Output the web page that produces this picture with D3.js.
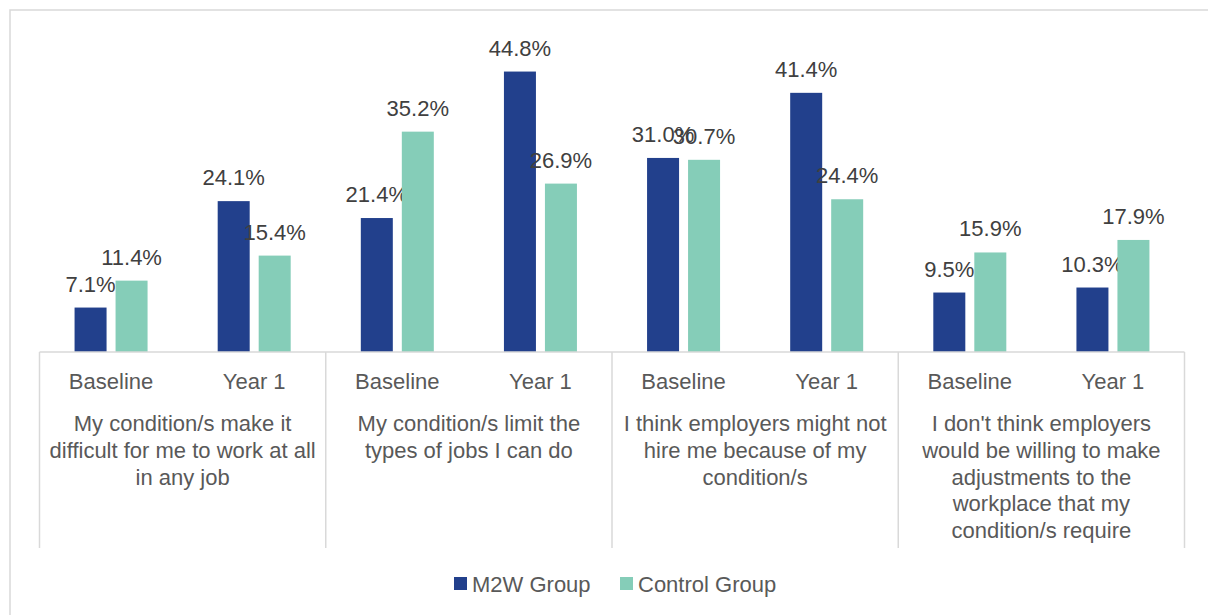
<!DOCTYPE html>
<html>
<head>
<meta charset="utf-8">
<script src="https://cdn.jsdelivr.net/npm/d3@7"></script>
<style>
  html, body { margin: 0; padding: 0; background: #fff; }
  svg { display: block; font-family: "Liberation Sans", Arial, sans-serif; }
</style>
</head>
<body>
<svg id="chart" width="1208" height="615"></svg>
<script>
// Statement groups (pre-wrapped lines) and the two time points within each
const statements = [
  ["My condition/s make it", "difficult for me to work at all", "in any job"],
  ["My condition/s limit the", "types of jobs I can do"],
  ["I think employers might not", "hire me because of my", "condition/s"],
  ["I don't think employers", "would be willing to make", "adjustments to the", "workplace that my", "condition/s require"]
];
const timepoints = ["Baseline", "Year 1"];
const seriesNames = ["M2W Group", "Control Group"];
const seriesColors = ["#22408c", "#85cdb8"];

// Percent agreeing, per statement then per time point
const m2wValues = [7.1, 24.1, 21.4, 44.8, 31.0, 41.4, 9.5, 10.3];
const controlValues = [11.4, 15.4, 35.2, 26.9, 30.7, 24.4, 15.9, 17.9];
const yDomain = [0, 50];

const svg = d3.select("#chart");

// Outer chart frame
svg.append("rect")
  .attr("x", 10).attr("y", 10)
  .attr("width", 1230).attr("height", 640)
  .attr("fill", "none").attr("stroke", "#d9d9d9").attr("stroke-width", 1.5);

const plotLeft = 39.5, plotRight = 1184.5, plotTop = 39, axisY = 352;

// Flattened category keys: statement index + time point
const keys = [];
statements.forEach((s, i) => timepoints.forEach(t => keys.push(i + "|" + t)));

const x = d3.scaleBand().domain(keys).range([plotLeft, plotRight]);
// Series offset within each time point: two 32px bars with a 9px gap
const xSeries = d3.scaleBand().domain(seriesNames).range([-36.5, 36.5]).paddingInner(9 / 41);
const y = d3.scaleLinear().domain(yDomain).range([axisY, plotTop]);

const rows = keys.map((k, i) => ({ key: k, values: [m2wValues[i], controlValues[i]] }));

const g = svg.append("g");
rows.forEach(r => {
  const cx = x(r.key) + x.bandwidth() / 2;
  r.values.forEach((v, si) => {
    const bx = cx + xSeries(seriesNames[si]);
    g.append("rect")
      .attr("x", bx).attr("y", y(v))
      .attr("width", xSeries.bandwidth()).attr("height", y(0) - y(v))
      .attr("fill", seriesColors[si]);
    g.append("text")
      .attr("x", bx + xSeries.bandwidth() / 2).attr("y", y(v) - 16)
      .attr("text-anchor", "middle")
      .attr("font-size", 22).attr("fill", "#404040")
      .text(v.toFixed(1) + "%");
  });
});

// Category axis: baseline, group separators, time-point and statement labels
const axis = svg.append("g").attr("stroke", "#d9d9d9").attr("stroke-width", 1.5);
axis.append("line").attr("x1", plotLeft).attr("x2", plotRight).attr("y1", axisY).attr("y2", axisY);
d3.range(statements.length + 1).forEach(i => {
  const sx = i < statements.length ? x(i + "|" + timepoints[0]) : plotRight;
  axis.append("line").attr("x1", sx).attr("x2", sx).attr("y1", axisY).attr("y2", 548);
});

keys.forEach((k, i) => {
  svg.append("text")
    .attr("x", x(k) + x.bandwidth() / 2).attr("y", 389)
    .attr("text-anchor", "middle").attr("font-size", 22).attr("fill", "#595959")
    .text(timepoints[i % 2]);
});

statements.forEach((lines, i) => {
  const cx = x(i + "|" + timepoints[0]) + x.bandwidth();
  const t = svg.append("text")
    .attr("text-anchor", "middle").attr("font-size", 22).attr("fill", "#595959");
  lines.forEach((line, li) => {
    t.append("tspan").attr("x", cx).attr("y", 431 + li * 26.8).text(line);
  });
});

// Legend
const legendX = [454, 620];
seriesNames.forEach((name, i) => {
  svg.append("rect")
    .attr("x", legendX[i]).attr("y", 577)
    .attr("width", 13).attr("height", 13)
    .attr("fill", seriesColors[i]);
  svg.append("text")
    .attr("x", legendX[i] + 18).attr("y", 591.5)
    .attr("font-size", 22).attr("fill", "#595959")
    .text(name);
});
</script>
</body>
</html>
